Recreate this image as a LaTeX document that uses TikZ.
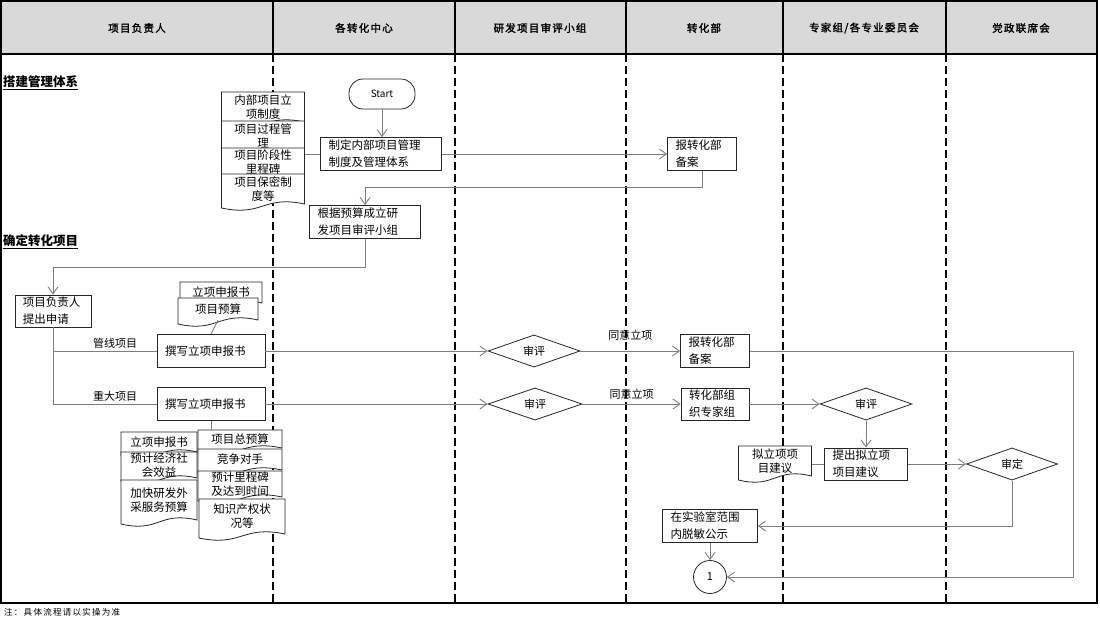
\documentclass[tikz,border=0pt]{standalone}
\usepackage{fontspec}
\newfontfamily\cjk{Noto Sans CJK SC}
\newfontfamily\cjkwide{Noto Sans CJK SC}[LetterSpace=12,AutoFakeBold=2]
\newfontfamily\cjknote{Noto Sans CJK SC}[LetterSpace=15]
\usetikzlibrary{arrows.meta}
\usetikzlibrary{shapes.geometric}
\definecolor{hdgray}{HTML}{D9D9D9}
\definecolor{lngray}{HTML}{7F7F7F}
\tikzset{pbox/.style={draw=black!85,fill=white,line width=0.8pt,align=left,inner xsep=8pt,inner ysep=0pt,minimum height=33pt,font=\cjk\fontsize{11.5}{17}\selectfont}}
\tikzset{dia/.style={diamond,draw=black!85,fill=white,line width=0.8pt,inner sep=0pt,minimum width=92pt,minimum height=32pt,font=\cjk\fontsize{11}{13}\selectfont}}
\tikzset{term/.style={draw=black!85,fill=white,rounded corners=14pt,line width=0.8pt,minimum width=66pt,minimum height=30pt,font=\cjk\fontsize{10}{12}\selectfont}}
\tikzset{docln/.style={draw=black!85,fill=white,line width=0.8pt}}
\tikzset{doctx/.style={inner sep=0pt,align=center,font=\cjk\fontsize{11.5}{14}\selectfont}}
\tikzset{lnk/.style={draw=lngray,line width=0.9pt}}
\tikzset{lbl/.style={font=\cjk\fontsize{11}{13}\selectfont,inner sep=2pt}}
\tikzset{lane/.style={line width=1.6pt,dash pattern=on 8pt off 4pt}}
\tikzset{hd/.style={font=\cjkwide\bfseries\fontsize{10.5}{12}\selectfont}}
\tikzset{sec/.style={anchor=west,inner sep=0pt,font=\cjk\bfseries\fontsize{12.5}{14}\selectfont}}
\tikzset{>={Straight Barb[length=7pt,width=10pt]}}
% document shape: name, centre x, top y, width, height, text
\newcommand\docshp[6]{%
  \filldraw[docln] (#2-#4/2,#3) -- (#2+#4/2,#3) -- (#2+#4/2,#3+#5-4)
    .. controls (#2,#3+#5-13) and (#2,#3+#5+9) .. (#2-#4/2,#3+#5) -- cycle;
  \node[doctx,minimum width=#4,minimum height=#5-4] (#1) at (#2,#3+#5/2-2) {#6};}

\begin{document}
\begin{tikzpicture}[x=1pt,y=-1pt]
  \useasboundingbox (0,0) rectangle (1100,622);
  % lanes
  \fill[hdgray] (1,1) rectangle (1097,54);
  \foreach \x in {273,455,626,783,946} {
    \draw[line width=2pt] (\x,1) -- (\x,54);
    \draw[lane] (\x,54) -- (\x,603);
  }
  \draw[line width=2pt] (1,54) -- (1097,54);
  \draw[line width=2pt] (1,1) rectangle (1097,603);
  \foreach \x/\t [count=\i] in {137/项目负责人,364/各转化中心,540/研发项目审评小组,704/转化部,864/{专家组/各专业委员会},1021/党政联席会}
    \node[hd] (head\i) at (\x,28) {\t};
  \node[anchor=west,inner sep=0pt,font=\cjknote\fontsize{8.5}{10}\selectfont] (note) at (4,612) {注：具体流程请以实操为准};
  \node[sec] (sec1) at (3,83) {\underline{搭建管理体系}};
  \node[sec] (sec2) at (3,242) {\underline{确定转化项目}};

  % management system
  \node[term] (start) at (382,94) {Start};
  \node[pbox,text width=105pt] (zhiding) at (381,154) {制定内部项目管理\\制度及管理体系};
  \docshp{dzd}{263}{92}{83}{34}{内部项目立\\项制度}
  \docshp{dgc}{263}{121}{83}{34}{项目过程管\\理}
  \docshp{dlc}{263}{148}{83}{33}{项目阶段性\\里程碑}
  \docshp{dbm}{263}{174}{83}{34}{项目保密制\\度等}
  \node[pbox,text width=53pt] (baobei1) at (702,154) {报转化部\\备案};
  \node[pbox,text width=95pt] (chengli) at (365,222) {根据预算成立研\\发项目审评小组};

  % project selection
  \node[pbox,text width=60pt,minimum height=32pt] (shenqing) at (53,311) {项目负责人\\提出申请};
  \docshp{dsb1}{221}{282}{82}{25}{立项申报书}
  \docshp{dys}{218}{298}{80}{26}{项目预算}
  \node[pbox,text width=92pt] (zx1) at (211,351) {撰写立项申报书};
  \node[pbox,text width=92pt] (zx2) at (211,404) {撰写立项申报书};
  \docshp{dsb2}{159}{432}{76}{24}{立项申报书}
  \docshp{djj}{159}{452}{76}{30}{预计经济社\\会效益}
  \docshp{djk}{159}{480}{76}{44}{加快研发外\\采服务预算}
  \docshp{dzys}{240}{430}{84}{22}{项目总预算}
  \docshp{djz}{240}{449}{84}{25}{竞争对手}
  \docshp{dlcb}{240}{471}{84}{30}{预计里程碑\\及达到时间}
  \docshp{dzs}{242}{499}{86}{39}{知识产权状\\况等}
  \node[dia] (sp1) at (534,351) {审评};
  \node[dia,minimum width=94pt] (sp2) at (535,404) {审评};
  \node[pbox,text width=53pt] (baobei2) at (715,351) {报转化部\\备案};
  \node[pbox,text width=52pt,minimum height=32pt] (zuzhi) at (715,404) {转化部组\\织专家组};
  \node[dia] (sp3) at (866,404) {审评};
  \docshp{dny}{775}{446}{73}{34}{拟立项项\\目建议}
  \node[pbox,text width=67pt,minimum height=32pt] (tichu) at (866,464) {提出拟立项\\项目建议};
  \node[dia,minimum width=91pt] (shending) at (1012,464) {审定};
  \node[pbox,text width=79pt] (gongshi) at (710,526) {在实验室范围\\内脱敏公示};
  \node[circle,draw=black!85,fill=white,line width=0.8pt,minimum size=33pt,inner sep=0pt,font=\cjk\fontsize{11}{13}\selectfont] (circ) at (710,577) {1};
  \coordinate (rloop) at (1073,577);

  % connectors
  \draw[lnk,->] (start.south) -- (start.south |- zhiding.north);
  \draw[lnk,->] (zhiding) -- (baobei1);
  \draw[lnk] (dlc.east |- zhiding.west) -- (zhiding.west);
  \draw[lnk,->] (baobei1.south) -- ++(0,17) -| (chengli.north);
  \draw[lnk,->] (chengli.south) -- ++(0,29) -| (shenqing.north);
  \draw[lnk] (shenqing.south) |- node[lbl,above,pos=0.8] {重大项目} (zx2.west);
  \draw[lnk] (shenqing.south |- zx1.west) -- node[lbl,above,pos=0.6] {管线项目} (zx1.west);
  \draw[lnk] (dys.south) -- (zx1.north);
  \draw[lnk] (zx2.south) -- (zx2.south |- dzys.north);
  \draw[lnk,->] (zx1) -- (sp1);
  \draw[lnk,->] (zx2) -- (sp2);
  \draw[lnk,->] (sp1) -- node[lbl,above=8pt] {同意立项} (baobei2);
  \draw[lnk,->] (sp2) -- node[lbl,above=2pt] {同意立项} (zuzhi);
  \draw[lnk,->] (zuzhi) -- (sp3);
  \draw[lnk,->] (sp3) -- (tichu);
  \draw[lnk] (dny.east |- tichu.west) -- (tichu.west);
  \draw[lnk,->] (tichu) -- (shending);
  \draw[lnk,->] (shending.south) |- (gongshi.east);
  \draw[lnk,->] (gongshi) -- (circ);
  \draw[lnk,->] (baobei2.east) -| (rloop) -- (circ.east);
\end{tikzpicture}
\end{document}
